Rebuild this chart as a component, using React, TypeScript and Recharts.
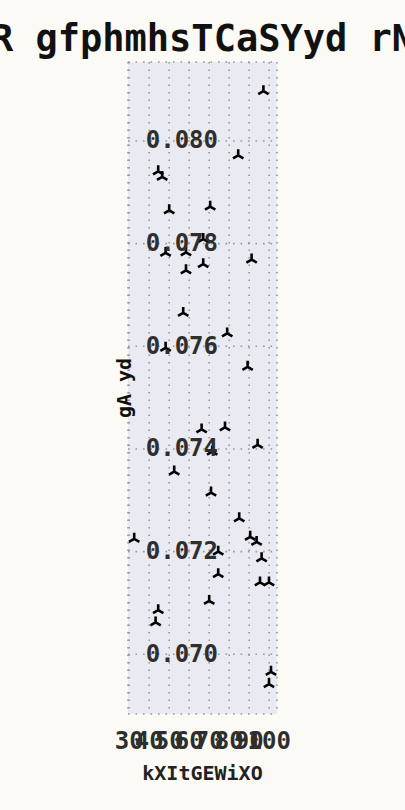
import { ScatterChart, Scatter, XAxis, YAxis, CartesianGrid } from 'recharts';

const xValues = [
  97.1, 84.5, 44.5, 46.5, 50.0, 70.5, 67.0, 48.2, 58.4, 67.0, 58.4, 91.2,
  57.0, 79.0, 48.2, 89.2, 66.2, 77.9, 94.2, 71.5, 52.5, 70.9, 85.0, 32.5,
  90.5, 93.7, 74.5, 96.2, 74.5, 95.4, 99.9, 70.0, 44.5, 43.2, 100.9, 99.9,
];
const yValues = [
  0.08097, 0.07972, 0.07941, 0.0793, 0.07865, 0.07872, 0.07809, 0.07782, 0.07783, 0.0776, 0.07748, 0.07769,
  0.07665, 0.07625, 0.07597, 0.0756, 0.07438, 0.07442, 0.07408, 0.07395, 0.07356, 0.07315, 0.07265, 0.07225,
  0.07229, 0.07219, 0.072, 0.07187, 0.07156, 0.0714, 0.0714, 0.07104, 0.07086, 0.07062, 0.06966, 0.06942,
];
const xTicks = [30, 40, 50, 60, 70, 80, 90, 100];
const yTicks = [0.07, 0.072, 0.074, 0.076, 0.078, 0.08];

const title = 'R gfphmhsTCaSYyd rN';
const xLabel = 'kXItGEWiXO';
const yLabel = 'gA yd';

const points = xValues.map((x, i) => ({ x, y: yValues[i] }));

const W = 405;
const H = 810;
const PLOT_LEFT = 128;
const PLOT_TOP = 62;
const PLOT_RIGHT = 277;
const PLOT_BOTTOM = 714;
const MONO = '"DejaVu Sans Mono", monospace';

// matplotlib-style tri_down marker
function TriDown(props: any) {
  const { cx, cy } = props;
  const r = 6;
  const dx = r * 0.866;
  const dy = r * 0.5;
  return (
    <path
      d={`M${cx},${cy}L${cx},${cy - r}M${cx},${cy}L${cx - dx},${cy + dy}M${cx},${cy}L${cx + dx},${cy + dy}`}
      stroke="#000"
      strokeWidth={2.6}
      fill="none"
    />
  );
}

function YTick(props: any) {
  const { y, payload } = props;
  return (
    <text x={PLOT_LEFT + 90} y={y + 7.5} textAnchor="end" fontFamily={MONO} fontWeight="bold" fontSize={24} fill="#2e2e2e">
      {payload.value.toFixed(3)}
    </text>
  );
}

function XTick(props: any) {
  const { x, payload } = props;
  return (
    <text x={x} y={PLOT_BOTTOM + 35} textAnchor="middle" fontFamily={MONO} fontWeight="bold" fontSize={24} fill="#2e2e2e">
      {payload.value}
    </text>
  );
}

export default function App() {
  return (
    <div style={{ position: 'absolute', left: 0, top: 0, width: W, height: H, background: '#fcfaf4', overflow: 'hidden' }}>
      <ScatterChart
        width={W}
        height={H}
        margin={{ top: PLOT_TOP, right: W - PLOT_RIGHT, bottom: H - PLOT_BOTTOM - 40, left: PLOT_LEFT - 40 }}
      >
        <CartesianGrid
          fill="#eaeaf2"
          fillOpacity={1}
          stroke="#999"
          strokeWidth={1.6}
          strokeDasharray="1.6 5.9"
        />
        <XAxis
          type="number"
          dataKey="x"
          domain={[29.4, 103.9]}
          ticks={xTicks}
          height={40}
          axisLine={false}
          tickLine={false}
          tick={<XTick />}
          interval={0}
        />
        <YAxis
          type="number"
          dataKey="y"
          domain={[0.068837, 0.081539]}
          ticks={yTicks}
          width={40}
          axisLine={false}
          tickLine={false}
          tick={<YTick />}
          interval={0}
        />
        <Scatter data={points} shape={<TriDown />} isAnimationActive={false} />
      </ScatterChart>
      <svg width={W} height={H} style={{ position: 'absolute', left: 0, top: 0, pointerEvents: 'none' }}>
        <text x={W / 2} y={51} textAnchor="middle" fontFamily={MONO} fontWeight="bold" fontSize={37} fill="#111">
          {title}
        </text>
        <text x={(PLOT_LEFT + PLOT_RIGHT) / 2} y={780} textAnchor="middle" fontFamily={MONO} fontWeight="bold" fontSize={20} fill="#222">
          {xLabel}
        </text>
        <text
          x={0}
          y={0}
          transform={`translate(131, ${(PLOT_TOP + PLOT_BOTTOM) / 2}) rotate(-90)`}
          textAnchor="middle"
          fontFamily={MONO}
          fontWeight="bold"
          fontSize={20}
          fill="#111"
        >
          {yLabel}
        </text>
      </svg>
    </div>
  );
}
